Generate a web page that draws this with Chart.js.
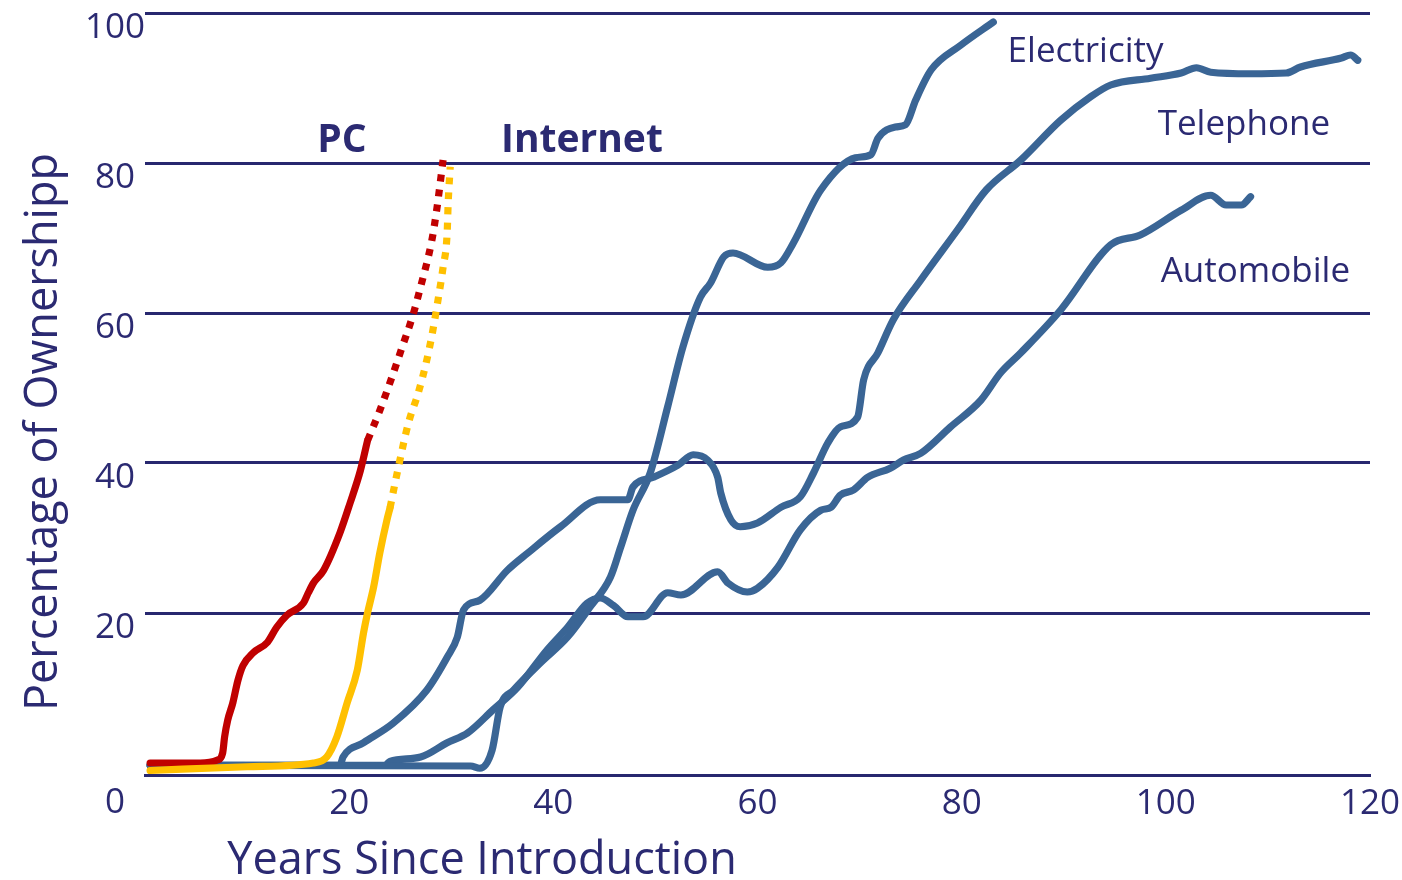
<!DOCTYPE html>
<html>
<head>
<meta charset="utf-8">
<script src="https://cdn.jsdelivr.net/npm/chart.js@4"></script>
<style>
  html, body { margin: 0; padding: 0; background: #fff; }
  #wrap { width: 1402px; height: 880px; position: relative; }
</style>
</head>
<body>
<div id="wrap"><canvas id="myChart"></canvas></div>
<script>
// datos (años desde introduccion, % de hogares)
const pcYears = [0.5, 5.4, 7.1, 7.6, 7.8, 8.1, 8.6, 9.1, 9.6, 10.6, 12, 12.9, 13.9, 15.5, 16, 16.5, 17.5, 19.1, 20.1, 21.1, 21.8];
const pcPct = [0, 0, 0.4, 1.3, 3.5, 5.7, 8, 11, 13, 14.7, 16.1, 18.1, 19.7, 21.3, 22.7, 24, 25.7, 30.7, 34.7, 39, 43];
const pcProjYears = [21.8, 23, 24.2, 25.2, 26.2, 27, 28.1, 28.6, 29.2];
const pcProjPct = [43, 47, 51.5, 55.5, 59.5, 63.5, 69.7, 74, 80.4];

const netYears = [0.5, 10, 16.5, 17.8, 18.8, 19.8, 20.8, 21.4, 21.8, 22.4, 23, 23.7, 24];
const netPct = [-1, -0.5, 0, 0.8, 3.5, 8, 12.4, 17.3, 20, 23.5, 28, 32.4, 34];
const netProjYears = [24, 24.8, 25.8, 26.8, 27.6, 28.2, 28.7, 29.2, 29.6, 29.7, 29.9];
const netProjPct = [34, 39.3, 45.3, 49.5, 53.7, 57.7, 61.7, 66.1, 70.7, 74.7, 79.5];

const elecYears = [0.5, 31.9, 32.8, 34, 34.8, 36.1, 38.7, 41.4, 43.6, 45.6, 46.6, 47.8, 49.5, 51.2, 52.7, 54.4, 55.4, 56.7, 57.6, 61, 62.3, 63.5, 66.2, 69.6, 71.1, 71.8, 73.5, 74.5, 75.5, 77, 79.9, 83.1];
const elecPct = [-0.3, -0.4, -0.7, 1.7, 7.5, 9.7, 13.3, 16.8, 20.8, 24.8, 28.8, 33.7, 38.7, 47.5, 55.5, 62.1, 64, 67.5, 68, 66.1, 66.7, 69.3, 76.4, 80.7, 81.1, 83.3, 84.8, 85.1, 88.4, 92.4, 95.7, 98.8];

const phoneYears = [0.5, 19.1, 19.4, 21.4, 24.3, 27.6, 29.6, 30.6, 31.2, 32.8, 35.5, 37.5, 40.7, 44.6, 47.3, 47.8, 49.8, 52.2, 53.7, 55.1, 56.1, 56.4, 57.4, 58.3, 60, 62.3, 64.2, 65.5, 66.9, 68.1, 69.8, 70.4, 71.8, 73.3, 76, 79.6, 82.4, 85.8, 89.7, 92.6, 94.6, 98.5, 101.5, 103, 104.4, 108.3, 111.8, 113.2, 117.2, 118.1, 118.8];
const phonePct = [-0.3, -0.3, 0.8, 2.7, 5.3, 9.7, 14.1, 16.8, 20.4, 21.7, 25.7, 28, 31.5, 35.1, 35.1, 36.8, 38.1, 39.7, 41.1, 40.4, 38.1, 36, 32.4, 31.5, 32, 34.1, 35.5, 38.7, 42.7, 44.8, 46.1, 51.1, 54.7, 59.1, 64.4, 71.1, 76.4, 80.4, 85.7, 88.8, 90.4, 91.3, 92, 92.7, 92.1, 91.9, 92, 92.8, 94, 94.4, 93.7];

const autoYears = [0.5, 23.5, 24, 27, 29.6, 31.6, 34.1, 36.5, 39.4, 41.4, 43.3, 44.6, 45.9, 47.3, 48.8, 51.2, 52.5, 56.1, 57.1, 59, 60, 62, 64.2, 66.2, 67.2, 68.1, 69.4, 70.8, 73, 74.3, 76, 78.9, 81.9, 83.8, 85.8, 89.7, 94.6, 97.5, 101.5, 104.4, 105.9, 107.4, 108.3];
const autoPct = [-0.3, -0.3, 0.2, 0.8, 2.7, 4, 7.1, 10.1, 15.1, 18.1, 21.3, 22, 21, 19.5, 19.5, 22.7, 22.4, 25.5, 24, 22.8, 23.3, 26.1, 31.1, 33.7, 34.1, 35.7, 36.4, 38.1, 39.3, 40.4, 41.3, 44.8, 48.4, 52, 54.7, 60.4, 69.1, 70.4, 73.7, 75.7, 74.4, 74.4, 75.5];

const xTicks = [0, 20, 40, 60, 80, 100, 120];
const yTicks = [20, 40, 60, 80, 100];

// etiquetas dentro del grafico
const labelTexts = ["PC", "Internet", "Electricity", "Telephone", "Automobile"];
const labelYears = [19.3, 42.8, 84.5, 99.2, 99.5];
const labelPct = [81.5, 81.5, 93.5, 83.7, 64.1];
const labelBold = [true, true, false, false, false];
const labelAlign = ["center", "center", "left", "left", "left"];

const navy = "#28286f";
const txt = "#2b2a72";
const azul = "#3a6595";
const rojo = "#c00000";
const amarillo = "#ffc000";
const fuente = "'Open Sans', 'Noto Sans', sans-serif";

function pares(xs, ys) {
  return xs.map((x, i) => ({ x: x, y: ys[i] }));
}

function serie(xs, ys, color, punteada) {
  return {
    data: pares(xs, ys),
    borderColor: color,
    borderWidth: 7.2,
    pointRadius: 0,
    fill: false,
    cubicInterpolationMode: "monotone",
    borderDash: punteada ? [7, 8] : [],
    borderCapStyle: punteada ? "butt" : "round",
    borderJoinStyle: "round",
  };
}

// textos extra: titulos de ejes, el "0" y nombres de las series
const textos = {
  id: "textos",
  afterDraw(chart) {
    const ctx = chart.ctx;
    const xs = chart.scales.x;
    const ys = chart.scales.y;
    const area = chart.chartArea;
    ctx.save();
    ctx.fillStyle = txt;
    ctx.font = "35px " + fuente;
    ctx.textAlign = "center";
    ctx.textBaseline = "middle";
    ctx.fillText("0", area.left - 30, area.bottom + 28);

    ctx.font = "45px " + fuente;
    ctx.textBaseline = "alphabetic";
    ctx.fillText("Years Since Introduction", 482, 874);

    ctx.save();
    ctx.translate(57, 432);
    ctx.rotate(-Math.PI / 2);
    ctx.fillText("Percentage of Ownershipp", 0, 0);
    ctx.restore();

    labelTexts.forEach((t, i) => {
      ctx.font = (labelBold[i] ? "bold 39px " : "35px ") + fuente;
      ctx.textAlign = labelAlign[i];
      ctx.textBaseline = "alphabetic";
      ctx.fillText(t, xs.getPixelForValue(labelYears[i]), ys.getPixelForValue(labelPct[i]));
    });
    ctx.restore();
  },
};

const config = {
  type: "line",
  data: {
    datasets: [
      serie(netProjYears, netProjPct, amarillo, true),
      serie(netYears, netPct, amarillo, false),
      serie(pcProjYears, pcProjPct, rojo, true),
      serie(pcYears, pcPct, rojo, false),
      serie(elecYears, elecPct, azul, false),
      serie(phoneYears, phonePct, azul, false),
      serie(autoYears, autoPct, azul, false),
    ],
  },
  options: {
    responsive: true,
    maintainAspectRatio: false,
    animation: false,
    layout: { padding: { left: 85, right: 32, top: 13, bottom: 0 } },
    plugins: { legend: { display: false }, tooltip: { enabled: false } },
    scales: {
      x: {
        type: "linear",
        min: 0,
        max: 120,
        afterBuildTicks: (s) => { s.ticks = xTicks.map((v) => ({ value: v })); },
        afterFit: (s) => { s.height = 105; s.paddingLeft = 0; s.paddingRight = 0; },
        grid: { display: false, drawTicks: false },
        border: { display: true, color: navy, width: 3 },
        ticks: {
          color: txt,
          font: { family: fuente, size: 35 },
          padding: 8,
          maxRotation: 0,
          callback: (v) => (v === 0 ? "" : v),
        },
      },
      y: {
        min: -1.6,
        max: 100,
        afterBuildTicks: (s) => { s.ticks = yTicks.map((v) => ({ value: v })); },
        afterFit: (s) => { s.width = 60; s.paddingTop = 0; s.paddingBottom = 0; },
        grid: { color: navy, lineWidth: 3, drawTicks: false },
        border: { display: false },
        ticks: {
          color: txt,
          font: { family: fuente, size: 35 },
          padding: 0,
          crossAlign: "center",
          labelOffset: 15,
        },
      },
    },
  },
  plugins: [textos],
};

const ctx = document.getElementById("myChart").getContext("2d");
new Chart(ctx, config);
</script>
</body>
</html>
